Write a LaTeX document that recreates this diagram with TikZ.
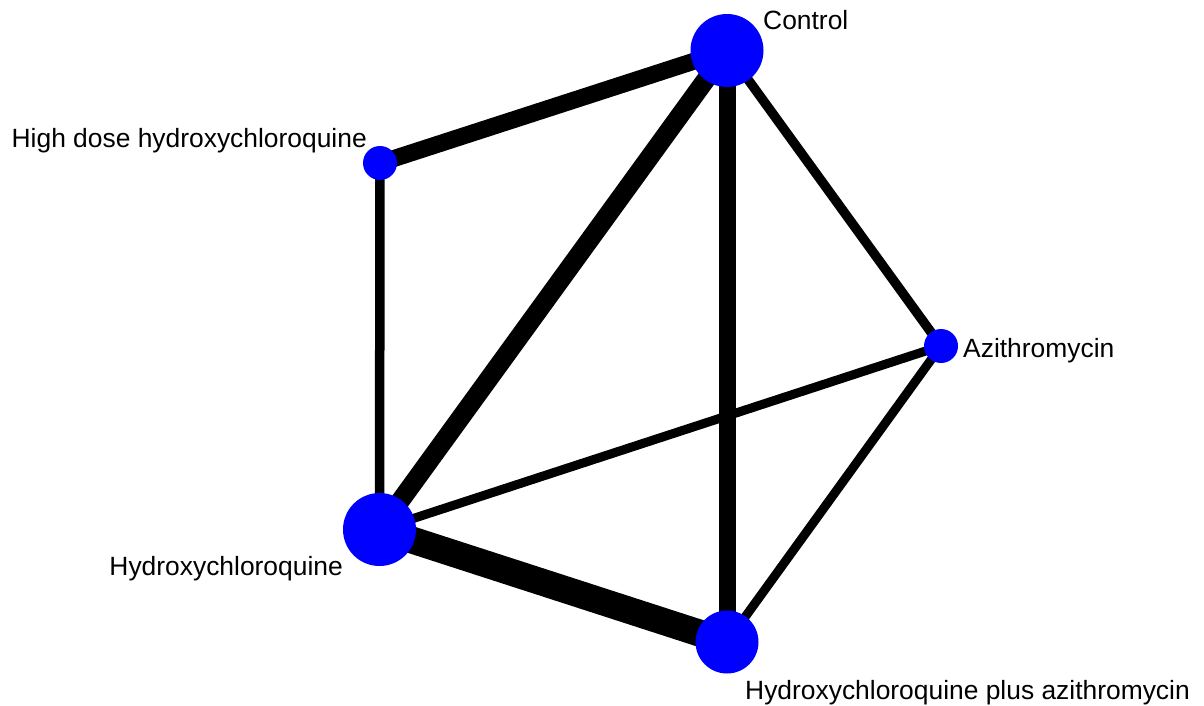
\documentclass[tikz,border=0pt]{standalone}
\usepackage{fontspec}
\setmainfont{Liberation Sans}
\usetikzlibrary{backgrounds}
\definecolor{nodeblue}{RGB}{0,0,255}
\tikzset{
  trt/.style={circle, fill=nodeblue, draw=none, inner sep=0pt, minimum size=#1},
  lbl/.style={font=\fontsize{26.4}{30}\selectfont, inner sep=0pt, text=black},
  edge/.style={line width=#1, draw=black, line cap=butt}
}
\begin{document}
\begin{tikzpicture}[x=1pt,y=-1pt]
\useasboundingbox (0,0) rectangle (1204,706);
\node[trt=73pt] (C) at (727,50.5) {};
\node[trt=34pt] (HD) at (380,163) {};
\node[trt=34pt] (AZ) at (941,346) {};
\node[trt=73pt] (H) at (379.5,529.5) {};
\node[trt=63pt] (HA) at (727,642) {};
\begin{scope}[on background layer]
\draw[edge=17pt] (C.center) -- (HD.center);
\draw[edge=19pt] (C.center) -- (H.center);
\draw[edge=17pt] (C.center) -- (HA.center);
\draw[edge=9.5pt] (C.center) -- (AZ.center);
\draw[edge=9.5pt] (HD.center) -- (H.center);
\draw[edge=9pt] (H.center) -- (AZ.center);
\draw[edge=27pt] (H.center) -- (HA.center);
\draw[edge=9pt] (AZ.center) -- (HA.center);
\end{scope}
\node[lbl, anchor=base west] (lC) at (763,30) {Control};
\node[lbl, anchor=base east] (lHD) at (367,147) {High dose hydroxychloroquine};
\node[lbl, anchor=base west] (lAZ) at (963,357) {Azithromycin};
\node[lbl, anchor=base east] (lH) at (343,575) {Hydroxychloroquine};
\node[lbl, anchor=base west] (lHA) at (745,699) {Hydroxychloroquine plus azithromycin};
\end{tikzpicture}
\end{document}
